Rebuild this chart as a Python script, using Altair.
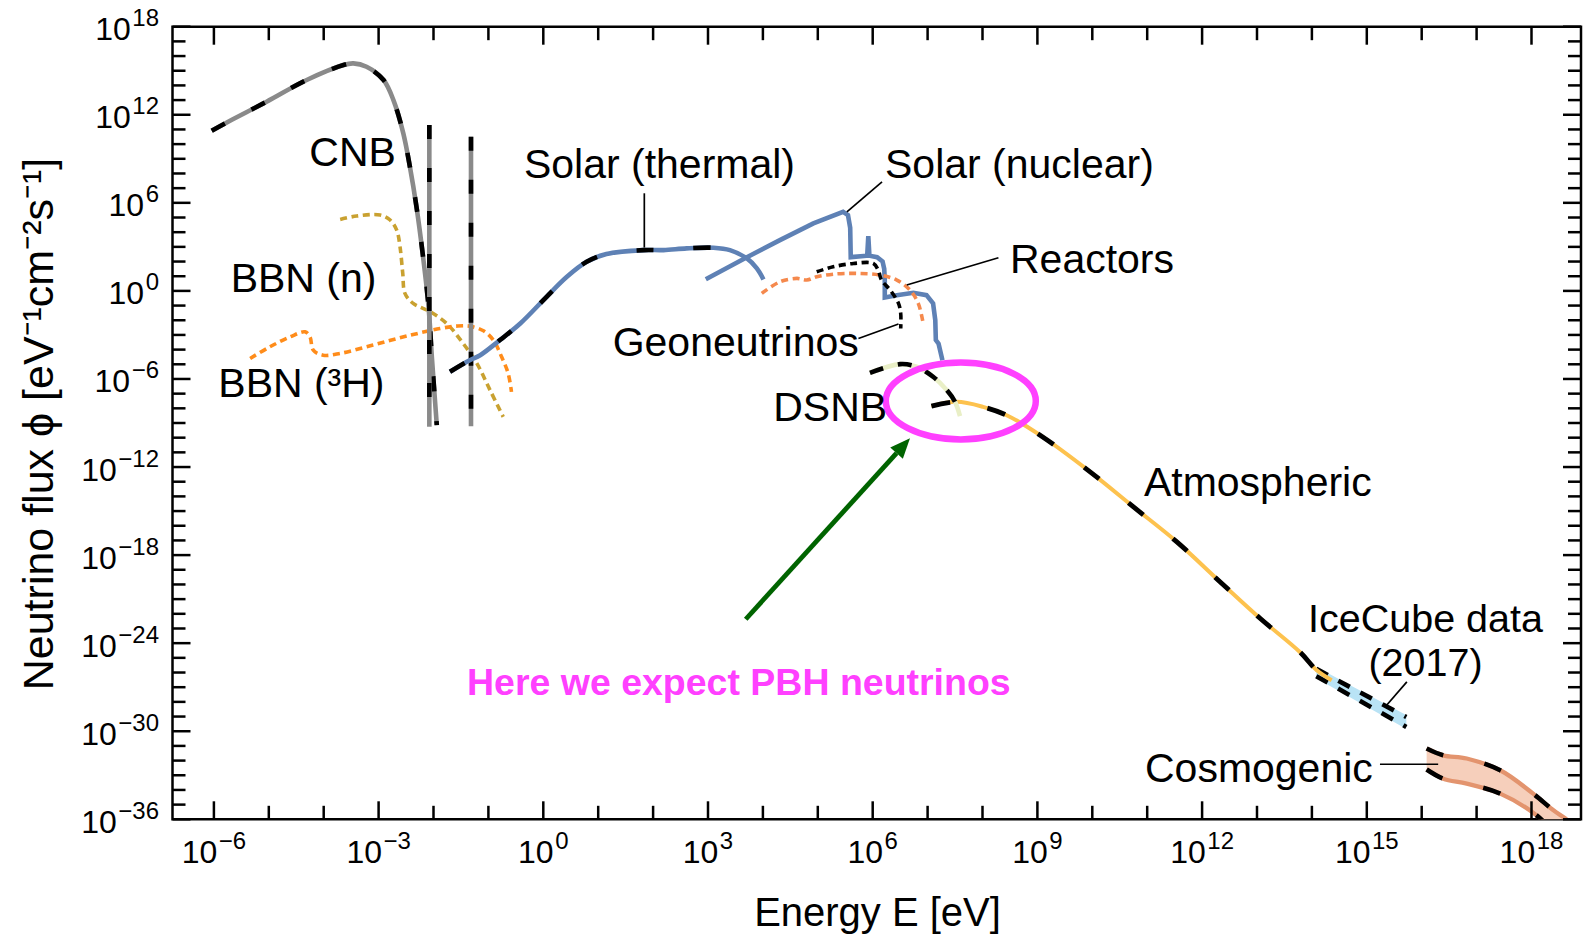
import altair as alt
import pandas as pd

# ---------------- values: log10(E / eV) and log10(flux) ----------------
cnb_le = [-6.04, -5.74, -5.04, -4.31, -3.64, -3.46, -3.22, -2.91, -2.73, -2.55, -2.43, -2.31, -2.19, -2.09, -2.03, -1.94]
cnb_lf = [10.91, 11.53, 12.89, 14.37, 15.39, 15.50, 15.27, 14.37, 13.00, 10.73, 8.46, 5.73, 2.32, -1.08, -4.49, -9.15]

cnb_lines_le = [-2.076, -1.317]
cnb_lines_top = [11.30, 10.50]
cnb_lines_bot = [-9.22, -9.22]

bbn_n_le = [-3.70, -3.40, -2.97, -2.79, -2.67, -2.61, -2.56, -2.52, -2.37, -2.06, -1.76, -1.46, -1.21, -0.97, -0.73]
bbn_n_lf = [4.87, 5.10, 5.17, 4.83, 4.14, 3.01, 1.19, -0.17, -0.85, -1.42, -2.22, -3.58, -4.94, -6.76, -8.58]

bbn_h_le = [-5.34, -4.98, -4.61, -4.34, -4.25, -4.19, -4.01, -3.70, -3.10, -2.49, -1.88, -1.58, -1.34, -1.09, -0.91, -0.76, -0.64, -0.58]
bbn_h_lf = [-4.60, -3.81, -3.13, -2.79, -3.13, -4.04, -4.38, -4.26, -3.69, -3.08, -2.56, -2.40, -2.40, -2.72, -3.35, -4.49, -5.62, -6.88]

sol_th_le = [-1.70, -1.34, -1.15, -0.79, -0.42, 0.06, 0.43, 0.79, 1.15, 1.82, 2.19, 2.61, 3.10, 3.40, 3.71, 3.89, 4.01]
sol_th_lf = [-5.51, -4.72, -4.38, -3.35, -2.22, -0.40, 0.96, 1.98, 2.51, 2.78, 2.78, 2.90, 2.94, 2.78, 2.21, 1.53, 0.78]

sol_nu_le = [2.96, 3.70, 4.31, 4.92, 5.46, 5.55, 5.59, 5.60, 5.90, 5.92, 5.94, 6.08, 6.18, 6.21, 6.22, 6.22, 6.44, 6.74, 6.98, 7.10, 7.14, 7.15, 7.20, 7.27]
sol_nu_lf = [0.80, 2.28, 3.46, 4.60, 5.39, 5.17, 4.30, 2.30, 2.40, 3.74, 2.40, 2.30, 2.00, 1.50, 0.74, -0.45, -0.29, -0.13, -0.29, -0.85, -1.99, -3.35, -3.60, -4.72]

reac_le = [3.98, 4.31, 4.62, 4.80, 4.98, 5.28, 5.71, 6.13, 6.44, 6.68, 6.83, 6.92]
reac_lf = [-0.17, 0.62, 0.85, 0.74, 0.96, 1.14, 1.19, 1.08, 0.74, 0.05, -0.85, -2.22]

geo_le = [4.98, 5.28, 5.65, 6.01, 6.10, 6.16, 6.32, 6.47, 6.51, 6.51]
geo_lf = [1.30, 1.64, 1.87, 1.87, 1.42, 0.74, 0.05, -0.85, -1.53, -2.56]

dsnb_le = [5.95, 6.50, 6.80, 7.10, 7.35, 7.50, 7.59]
dsnb_lf = [-5.58, -4.99, -5.17, -5.85, -6.76, -7.56, -8.53]

atm_le = [7.07, 7.53, 8.01, 8.44, 9.05, 9.96, 10.75, 11.54, 12.33, 13.06, 13.78, 14.09, 14.36]
atm_lf = [-7.85, -7.56, -7.90, -8.47, -9.83, -12.33, -14.72, -17.10, -19.83, -22.32, -24.60, -25.85, -26.53]

ice_le = [14.08, 14.75, 15.72]
ice_up = [-25.75, -27.10, -29.03]
ice_lo = [-26.25, -27.67, -29.71]

cos_le = [16.09, 16.39, 16.82, 17.43, 18.03, 18.40, 18.64]
cos_up = [-31.18, -31.64, -31.86, -32.66, -34.25, -35.39, -36.00]
cos_lo = [-32.61, -33.23, -33.57, -34.25, -35.55, -36.80, -37.60]

# annotation geometry (in data space)
ellipse_c = (7.605, -7.50)
arrow_from = (3.687, -22.37)
arrow_to = (6.435, -11.05)
arrow_head = (6.557, -10.546)
leaders = [  # le1, lf1, le2, lf2
    (1.84, 2.95, 1.84, 6.65),
    (5.53, 5.39, 6.17, 7.43),
    (6.62, 0.40, 8.29, 2.26),
    (5.74, -3.24, 6.47, -2.26),
    (15.36, -28.23, 15.73, -26.64),
    (15.24, -32.25, 16.30, -32.25),
]

label_text = ["CNB", "BBN (n)", "BBN (³H)", "Solar (thermal)", "Solar (nuclear)", "Reactors",
              "Geoneutrinos", "DSNB", "Atmospheric", "Cosmogenic"]
label_le = [-4.262, -5.694, -5.920, -0.352, 6.224, 8.501, 1.264, 4.189, 10.94, 10.96]
label_lf = [8.506, -0.062, -7.218, 7.667, 7.667, 1.192, -4.444, -8.854, -13.987, -33.459]

icecube_text = "IceCube data\n(2017)"
icecube_pos = (16.069, -23.26)

pbh_text = "Here we expect PBH neutrinos"
pbh_pos = (-1.39, -27.55)

x_label_exps = [-6, -3, 0, 3, 6, 9, 12, 15, 18]
y_label_exps = [18, 12, 6, 0, -6, -12, -18, -24, -30, -36]
x_minor = [e for e in range(-6, 19) if e % 3 != 0]
y_minor = [e for e in range(-36, 19) if e % 6 != 0]

# ---------------- layout / style ----------------
W, H = 1408.5, 792.6
FONT = "Liberation Sans"
FS_LAB = 41
FS_B, FS_E = 32, 24
LW = 4.6

xs = alt.Scale(type="log", domain=[10 ** -6.7541, 10 ** 18.9017], nice=False)
ys = alt.Scale(type="log", domain=[1e-36, 1e18], nice=False)
X = alt.X("E:Q", scale=xs, axis=None)
Y = alt.Y("F:Q", scale=ys, axis=None)


def curve(le, lf):
    return pd.DataFrame({"E": [10.0 ** v for v in le], "F": [10.0 ** v for v in lf], "i": list(range(len(le)))})


def line(df, color, width, dash=None, interp="catmull-rom"):
    kw = dict(color=color, strokeWidth=width, interpolate=interp, clip=True, strokeCap="butt")
    if dash:
        kw["strokeDash"] = dash
    return alt.Chart(df).mark_line(**kw).encode(x=X, y=Y, order="i:Q")


layers = []

# Cosmogenic band
cos_df = pd.DataFrame({"E": [10.0 ** v for v in cos_le], "F": [10.0 ** v for v in cos_up],
                       "F2": [10.0 ** v for v in cos_lo]})
layers.append(alt.Chart(cos_df).mark_area(color="#f6cfbb", clip=True, interpolate="catmull-rom", opacity=1)
              .encode(x=X, y=Y, y2="F2:Q"))
for lf in (cos_up, cos_lo):
    d = curve(cos_le, lf)
    layers.append(line(d, "#e3946e", 4.3))
    layers.append(line(d, "black", 4.6, [18, 42]))

# IceCube band
ice_df = pd.DataFrame({"E": [10.0 ** v for v in ice_le], "F": [10.0 ** v for v in ice_up],
                       "F2": [10.0 ** v for v in ice_lo]})
layers.append(alt.Chart(ice_df).mark_area(color="#b9e3f5", clip=True, opacity=1).encode(x=X, y=Y, y2="F2:Q"))
for lf in (ice_up, ice_lo):
    d = curve(ice_le, lf)
    layers.append(line(d, "#b9e3f5", 3.5, interp="linear"))
    layers.append(line(d, "black", 4.6, [13, 12], interp="linear"))

# Atmospheric
d = curve(atm_le, atm_lf)
layers.append(line(d, "#fdc24e", 4))
layers.append(line(d, "black", 4.8, [19, 38]))

# DSNB
d = curve(dsnb_le, dsnb_lf)
layers.append(line(d, "#e9efc6", LW))
layers.append(line(d, "black", LW, [14, 15]))

# BBN
layers.append(line(curve(bbn_n_le, bbn_n_lf), "#c9a130", 3.6, [7, 4.5]))
layers.append(line(curve(bbn_h_le, bbn_h_lf), "#ff8c1a", 3.6, [7, 4.5]))

# CNB
d = curve(cnb_le, cnb_lf)
layers.append(line(d, "#8a8a8a", LW))
layers.append(line(d, "black", LW, [15, 30]))
cl = pd.DataFrame({"E": [10.0 ** v for v in cnb_lines_le], "F": [10.0 ** v for v in cnb_lines_top],
                   "F2": [10.0 ** v for v in cnb_lines_bot]})
layers.append(alt.Chart(cl).mark_rule(color="#8a8a8a", strokeWidth=LW, clip=True).encode(x=X, y=Y, y2="F2:Q"))
layers.append(alt.Chart(cl).mark_rule(color="black", strokeWidth=LW, strokeDash=[14, 29], clip=True)
              .encode(x=X, y=Y, y2="F2:Q"))

# Solar
d = curve(sol_th_le, sol_th_lf)
layers.append(line(d, "#5e81b5", LW))
layers.append(line(curve(sol_th_le[:15], sol_th_lf[:15]), "black", LW, [17, 40]))
layers.append(line(curve(sol_nu_le, sol_nu_lf), "#5e81b5", LW, interp="linear"))

# Reactors, Geoneutrinos
layers.append(line(curve(reac_le, reac_lf), "#f5894d", 3.6, [7, 4.5]))
layers.append(line(curve(geo_le, geo_lf), "black", 3.6, [7, 4.5]))

# Magenta ellipse
k = 0.5523
r = 0.512
ell_path = (f"M -1 0 C -1 {-k*r:.4f} {-k:.4f} {-r} 0 {-r} C {k:.4f} {-r} 1 {-k*r:.4f} 1 0 "
            f"C 1 {k*r:.4f} {k:.4f} {r} 0 {r} C {-k:.4f} {r} -1 {k*r:.4f} -1 0 Z")
ell_df = pd.DataFrame({"E": [10.0 ** ellipse_c[0]], "F": [10.0 ** ellipse_c[1]]})
layers.append(alt.Chart(ell_df).mark_point(shape=ell_path, size=150 ** 2, filled=False, color="#ff40ff",
                                           strokeWidth=6.5, opacity=1).encode(x=X, y=Y))

# Green arrow
arr = pd.DataFrame({"E": [10.0 ** arrow_from[0]], "F": [10.0 ** arrow_from[1]],
                    "E2": [10.0 ** arrow_to[0]], "F2": [10.0 ** arrow_to[1]]})
layers.append(alt.Chart(arr).mark_rule(color="#006400", strokeWidth=4.8).encode(x=X, y=Y, x2="E2:Q", y2="F2:Q"))
head = pd.DataFrame({"E": [10.0 ** arrow_head[0]], "F": [10.0 ** arrow_head[1]]})
layers.append(alt.Chart(head).mark_point(shape="M 0 -1 L 0.85 1 L -0.85 1 Z", size=400, filled=True,
                                         color="#006400", angle=42.2, opacity=1).encode(x=X, y=Y))

# Leader lines
ld = pd.DataFrame({"E": [10.0 ** a[0] for a in leaders], "F": [10.0 ** a[1] for a in leaders],
                   "E2": [10.0 ** a[2] for a in leaders], "F2": [10.0 ** a[3] for a in leaders]})
layers.append(alt.Chart(ld).mark_rule(color="black", strokeWidth=1.7).encode(x=X, y=Y, x2="E2:Q", y2="F2:Q"))

# Frame ticks (inward)
xmaj = pd.DataFrame({"E": [10.0 ** e for e in x_label_exps]})
xmin = pd.DataFrame({"E": [10.0 ** e for e in x_minor]})
ymaj = pd.DataFrame({"F": [10.0 ** e for e in y_label_exps]})
ymin = pd.DataFrame({"F": [10.0 ** e for e in y_minor]})
TW = 2.5
for df, ln in ((xmaj, 18), (xmin, 13.5)):
    layers.append(alt.Chart(df).mark_rule(color="black", strokeWidth=TW)
                  .encode(x=X, y=alt.value(H), y2=alt.value(H - ln)))
    layers.append(alt.Chart(df).mark_rule(color="black", strokeWidth=TW)
                  .encode(x=X, y=alt.value(0), y2=alt.value(ln)))
for df, ln in ((ymaj, 18), (ymin, 13)):
    layers.append(alt.Chart(df).mark_rule(color="black", strokeWidth=TW)
                  .encode(y=Y, x=alt.value(0), x2=alt.value(ln)))
    layers.append(alt.Chart(df).mark_rule(color="black", strokeWidth=TW)
                  .encode(y=Y, x=alt.value(W), x2=alt.value(W - ln)))

# Tick labels: "10" with a raised exponent
DIG, MIN = 0.556, 0.584


def tw(s, fs):
    return sum((MIN if c == "\u2212" else DIG) for c in s) * fs


GAP = 1.5
for e in x_label_exps:
    s = str(e).replace("-", "\u2212")
    w10, we = tw("10", FS_B), tw(s, FS_E)
    tot = w10 + GAP + we
    df = pd.DataFrame({"E": [10.0 ** e]})
    layers.append(alt.Chart(df).mark_text(text="10", align="left", baseline="alphabetic", font=FONT,
                                          fontSize=FS_B, dx=-tot / 2, color="black")
                  .encode(x=X, y=alt.value(H + 44)))
    layers.append(alt.Chart(df).mark_text(text=s, align="left", baseline="alphabetic", font=FONT,
                                          fontSize=FS_E, dx=-tot / 2 + w10 + GAP, color="black")
                  .encode(x=X, y=alt.value(H + 30)))
for e in y_label_exps:
    s = str(e).replace("-", "\u2212")
    we = tw(s, FS_E)
    df = pd.DataFrame({"F": [10.0 ** e]})
    layers.append(alt.Chart(df).mark_text(text=s, align="right", baseline="alphabetic", font=FONT,
                                          fontSize=FS_E, dy=-0.5, color="black")
                  .encode(y=Y, x=alt.value(-13.5)))
    layers.append(alt.Chart(df).mark_text(text="10", align="right", baseline="alphabetic", font=FONT,
                                          fontSize=FS_B, dy=13.5, color="black")
                  .encode(y=Y, x=alt.value(-13.5 - we - GAP)))

# Curve labels
lab = pd.DataFrame({"t": label_text, "E": [10.0 ** v for v in label_le], "F": [10.0 ** v for v in label_lf]})
layers.append(alt.Chart(lab).mark_text(align="left", baseline="alphabetic", font=FONT, fontSize=FS_LAB,
                                       color="black").encode(x=X, y=Y, text="t:N"))
ice_lab = pd.DataFrame({"t": [icecube_text], "E": [10.0 ** icecube_pos[0]], "F": [10.0 ** icecube_pos[1]]})
layers.append(alt.Chart(ice_lab).mark_text(align="center", baseline="alphabetic", font=FONT, fontSize=39.5,
                                           lineBreak="\n", lineHeight=44, color="black")
              .encode(x=X, y=Y, text="t:N"))
pbh = pd.DataFrame({"t": [pbh_text], "E": [10.0 ** pbh_pos[0]], "F": [10.0 ** pbh_pos[1]]})
layers.append(alt.Chart(pbh).mark_text(align="left", baseline="alphabetic", font=FONT, fontSize=37.5,
                                       fontWeight="bold", color="#ff40ff").encode(x=X, y=Y, text="t:N"))

# Axis titles
layers.append(alt.Chart(pd.DataFrame({"t": ["Energy E [eV]"]})).mark_text(
    align="center", baseline="alphabetic", font=FONT, fontSize=40, color="black")
    .encode(text="t:N", x=alt.value(705), y=alt.value(899)))
layers.append(alt.Chart(pd.DataFrame({"t": ["Neutrino flux \u03d5 [eV\u207b\u00b9cm\u207b\u00b2s\u207b\u00b9]"]})).mark_text(
    align="center", baseline="alphabetic", font=FONT, fontSize=43, angle=270, color="black")
    .encode(text="t:N", x=alt.value(-119.5), y=alt.value(397.3)))

chart = alt.layer(*layers).properties(
    width=W, height=H,
    autosize=alt.AutoSizeParams(type="none"),
    padding={"left": 172.5, "top": 26.7, "right": 2, "bottom": 118},
    background="white",
).configure_view(stroke="black", strokeWidth=2.5)

chart.save("out.html", embed_options={"renderer": "svg", "actions": False})
